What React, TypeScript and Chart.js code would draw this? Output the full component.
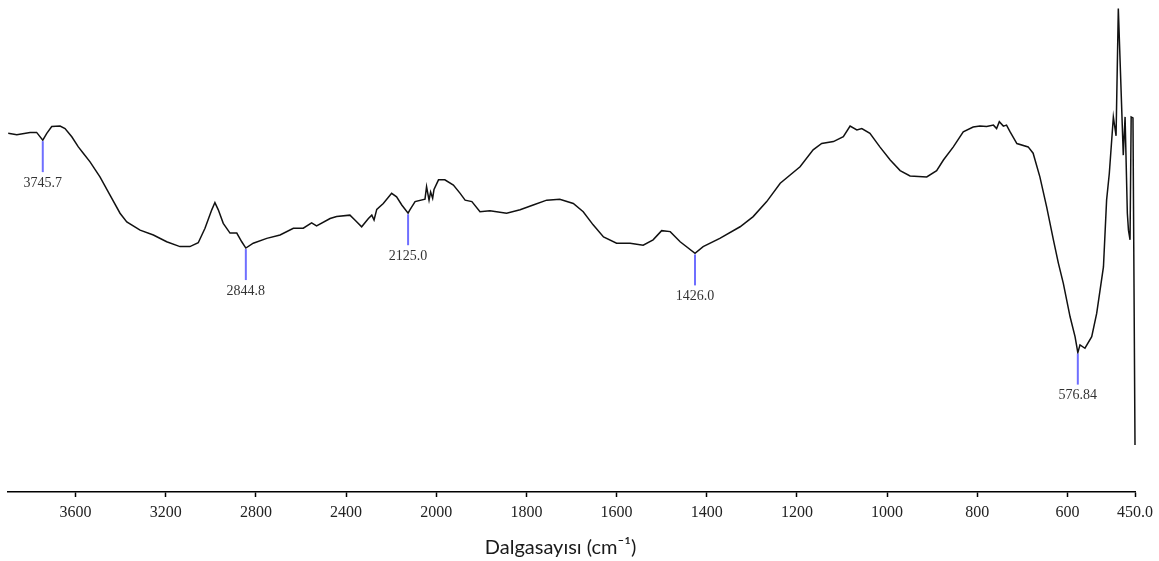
import React, { useEffect, useRef } from 'react';
import { Chart, registerables } from 'chart.js';

Chart.register(...registerables);

// Spectrum (wavenumber in cm-1, transmittance in %)
const wavenumbers = [
  3899, 3861, 3802, 3773, 3745.7, 3728, 3706, 3669, 3647, 3617, 3588, 3566, 3536, 3492, 3448, 3403,
  3373, 3314, 3255, 3196, 3137, 3093, 3056, 3026, 2996, 2982, 2967, 2945, 2915, 2885, 2863, 2844.8,
  2812, 2752, 2693, 2634, 2590, 2553, 2531, 2471, 2442, 2383, 2361, 2331, 2301, 2286, 2276, 2264,
  2235, 2198, 2176, 2153, 2125.0, 2117, 2094, 2050, 2043, 2032, 2025, 2016, 2010, 1995, 1981, 1962,
  1947, 1936, 1921, 1903, 1881, 1844, 1814, 1785, 1755, 1726, 1696, 1674, 1652, 1629, 1600, 1570,
  1541, 1519, 1500, 1481, 1459, 1426.0, 1408, 1371, 1326, 1297, 1267, 1237, 1193, 1164, 1145, 1119,
  1097, 1082, 1067, 1056, 1038, 1016, 993, 971, 949, 912, 890, 875, 853, 831, 809, 794,
  779, 764, 757, 751, 742, 735, 727, 712, 687, 676, 661, 646, 631, 620, 609, 594,
  583, 576.84, 572, 561, 546, 535, 520, 513, 507, 498, 492, 487, 476, 472, 467, 464.5,
  461, 458.5, 454.5, 450,
];
const transmittance = [
  74.1, 73.8, 74.3, 74.3, 72.7, 74.1, 75.5, 75.6, 75.1, 73.4, 71.3, 70.0, 68.2, 65.1, 61.4, 57.6,
  55.8, 54.1, 53.1, 51.7, 50.7, 50.7, 51.5, 54.5, 58.3, 59.8, 58.3, 55.5, 53.5, 53.5, 51.7, 50.4,
  51.4, 52.4, 53.1, 54.5, 54.5, 55.6, 55.0, 56.5, 56.9, 57.2, 56.2, 54.8, 56.5, 57.2, 56.2, 58.4,
  59.6, 61.7, 61.0, 59.3, 57.6, 58.3, 60.0, 60.5, 63.1, 60.3, 62.0, 60.7, 62.5, 64.5, 64.5, 63.4,
  61.7, 60.3, 60.0, 57.9, 58.1, 57.6, 58.3, 59.3, 60.3, 60.5, 59.6, 57.9, 55.2, 52.7, 51.4, 51.4,
  51.0, 52.1, 54.0, 53.8, 51.7, 49.3, 50.7, 52.4, 54.8, 56.9, 60.0, 63.8, 67.2, 70.7, 72.0, 72.4,
  73.4, 75.6, 74.8, 75.1, 74.1, 71.3, 68.6, 66.4, 65.3, 65.1, 66.4, 68.6, 71.3, 74.4, 75.4, 75.6,
  75.5, 75.8, 75.1, 76.5, 75.6, 75.8, 74.4, 72.0, 71.3, 70.0, 65.1, 58.9, 52.1, 47.3, 43.1, 36.2,
  32.1, 28.8, 30.4, 29.7, 32.1, 36.9, 46.5, 60.3, 65.8, 77.5, 73.6, 99.9, 69.6, 77.5, 57.6, 54.1,
  52.1, 77.5, 77.3, 9.7,
];

// Marked peaks
const peakWavenumbers = [3745.7, 2844.8, 2125.0, 1426.0, 576.84];
const peakLabels = ['3745.7', '2844.8', '2125.0', '1426.0', '576.84'];

// X axis ticks
const tickWavenumbers = [3600, 3200, 2800, 2400, 2000, 1800, 1600, 1400, 1200, 1000, 800, 600, 450];
const tickLabels = ['3600', '3200', '2800', '2400', '2000', '1800', '1600', '1400', '1200', '1000', '800', '600', '450.0'];
const axisMinWavenumber = 450;
const axisMaxWavenumber = 3900;
const axisTitle = 'Dalgasayısı (cm⁻¹)';

// Scale change of the spectrometer axis at 2000 cm-1 (half resolution above)
const BREAK = 2000;
const toAxis = (w: number) => (w > BREAK ? BREAK + (w - BREAK) / 2 : w);

const MARKER_COLOR = '#6f6fff';
const SERIF = '"Liberation Serif", "Times New Roman", serif';
const TITLE_FONT = '20px Lato, "Open Sans", sans-serif';
const TITLE_SHIFT_X = -11;
const TITLE_FROM_BOTTOM = 13;

const peakPlugin = {
  id: 'peakMarkers',
  afterDatasetsDraw(chart: any) {
    const { ctx, scales } = chart;
    const x = scales.x;
    const y = scales.y;
    ctx.save();
    peakWavenumbers.forEach((w, i) => {
      const idx = wavenumbers.indexOf(w);
      const v = transmittance[idx];
      const px = x.getPixelForValue(toAxis(w));
      const py = y.getPixelForValue(v);
      ctx.strokeStyle = MARKER_COLOR;
      ctx.lineWidth = 2;
      ctx.beginPath();
      ctx.moveTo(px, py + 1);
      ctx.lineTo(px, py + 32);
      ctx.stroke();
      ctx.fillStyle = '#333';
      ctx.font = '14px ' + SERIF;
      ctx.textAlign = 'center';
      ctx.textBaseline = 'middle';
      ctx.fillText(peakLabels[i], px, py + 32 + 11);
    });
    ctx.restore();
  },
};

const axisTitlePlugin = {
  id: 'axisTitle',
  afterDraw(chart: any) {
    const { ctx, chartArea, scales } = chart;
    const cx = (chartArea.left + chartArea.right) / 2 + TITLE_SHIFT_X;
    const cy = scales.x.bottom - TITLE_FROM_BOTTOM;
    ctx.save();
    ctx.fillStyle = '#1a1a1a';
    ctx.font = TITLE_FONT;
    ctx.textAlign = 'center';
    ctx.textBaseline = 'middle';
    ctx.fillText(axisTitle, cx, cy);
    ctx.restore();
  },
};

export default function App() {
  const ref = useRef<HTMLCanvasElement | null>(null);

  useEffect(() => {
    if (!ref.current) return;
    const points = wavenumbers.map((w, i) => ({ x: toAxis(w), y: transmittance[i] }));
    const chart = new Chart(ref.current, {
      type: 'line',
      data: {
        datasets: [
          {
            data: points,
            borderColor: '#111',
            borderWidth: 1.5,
            pointRadius: 0,
            tension: 0,
            fill: false,
            clip: false as any,
          },
        ],
      },
      options: {
        animation: false,
        responsive: true,
        maintainAspectRatio: false,
        devicePixelRatio: 1,
        layout: { padding: { left: 8, top: 8, right: 0, bottom: 0 } },
        plugins: { legend: { display: false }, tooltip: { enabled: false } },
        scales: {
          x: {
            type: 'linear',
            reverse: true,
            min: toAxis(axisMinWavenumber),
            max: toAxis(axisMaxWavenumber),
            afterBuildTicks: (s: any) => {
              s.ticks = tickWavenumbers.map((w) => ({ value: toAxis(w) }));
            },
            afterFit: (s: any) => {
              s.height = 69;
              s.paddingLeft = 0;
              s.paddingRight = 24;
              s.paddingTop = 0;
              s.paddingBottom = 0;
            },
            grid: {
              drawOnChartArea: false,
              drawTicks: true,
              tickLength: 5,
              tickColor: '#000',
              tickWidth: 1.5,
            },
            border: { display: true, color: '#000', width: 1.5 },
            ticks: {
              autoSkip: false,
              maxRotation: 0,
              padding: 6,
              color: '#222',
              font: { family: SERIF, size: 16 },
              callback: (value: any) => {
                const i = tickWavenumbers.findIndex((w) => Math.abs(toAxis(w) - Number(value)) < 1e-6);
                return i >= 0 ? tickLabels[i] : '';
              },
            },
            title: { display: false },
          },
          y: {
            display: false,
            min: 0,
            max: 100,
          },
        },
      },
      plugins: [peakPlugin, axisTitlePlugin],
    });
    return () => chart.destroy();
  }, []);

  return (
    <div style={{ position: 'absolute', left: 0, top: 0, width: 1159, height: 561 }}>
      <canvas ref={ref} />
    </div>
  );
}
